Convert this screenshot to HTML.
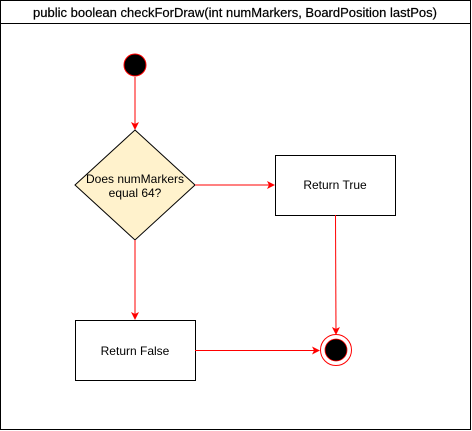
<!DOCTYPE html>
<html><head><style>body{margin:0;background:#fff}svg{display:block}</style></head>
<body>
<svg width="472" height="431" viewBox="0 0 472 431" xmlns="http://www.w3.org/2000/svg" font-family="Liberation Sans, sans-serif">
<defs><marker id="a" markerWidth="8" markerHeight="8" refX="7" refY="4" orient="auto" markerUnits="userSpaceOnUse"><path d="M0,0 L8,4 L0,8 L2,4 Z" fill="#f00"/></marker></defs>
<rect x="0.5" y="0.5" width="470" height="429" fill="#fff" stroke="#000"/>
<line x1="0" y1="23.5" x2="471" y2="23.5" stroke="#000"/>
<text x="235" y="17" font-size="13" text-anchor="middle" stroke="#000" stroke-width="0.2">public boolean checkForDraw(int numMarkers, BoardPosition lastPos)</text>
<circle cx="135" cy="65" r="11" fill="#000" stroke="#f00"/>
<line x1="135" y1="77" x2="135" y2="129" stroke="#f00" marker-end="url(#a)"/>
<polygon points="135,130 195,185 135,240 75,185" fill="#fff2cc" stroke="#000"/>
<text x="135" y="183" font-size="12" text-anchor="middle">Does numMarkers</text>
<text x="135" y="197" font-size="12" text-anchor="middle">equal 64?</text>
<line x1="195" y1="185" x2="274" y2="185" stroke="#f00" marker-end="url(#a)"/>
<rect x="275.5" y="155.5" width="120" height="60" fill="#fff" stroke="#000"/>
<text x="335" y="189" font-size="12" text-anchor="middle">Return True</text>
<line x1="135" y1="240" x2="135" y2="319" stroke="#f00" marker-end="url(#a)"/>
<rect x="75.5" y="320.5" width="120" height="60" fill="#fff" stroke="#000"/>
<text x="135" y="355" font-size="12" text-anchor="middle">Return False</text>
<line x1="335.5" y1="215" x2="336" y2="334" stroke="#f00" marker-end="url(#a)"/>
<line x1="195" y1="350.5" x2="319" y2="350.5" stroke="#f00" marker-end="url(#a)"/>
<circle cx="336" cy="350" r="15.5" fill="#fff" stroke="#f00"/>
<circle cx="336" cy="350" r="11" fill="#000" stroke="#f00" stroke-width="0.8"/>
</svg>
</body></html>
